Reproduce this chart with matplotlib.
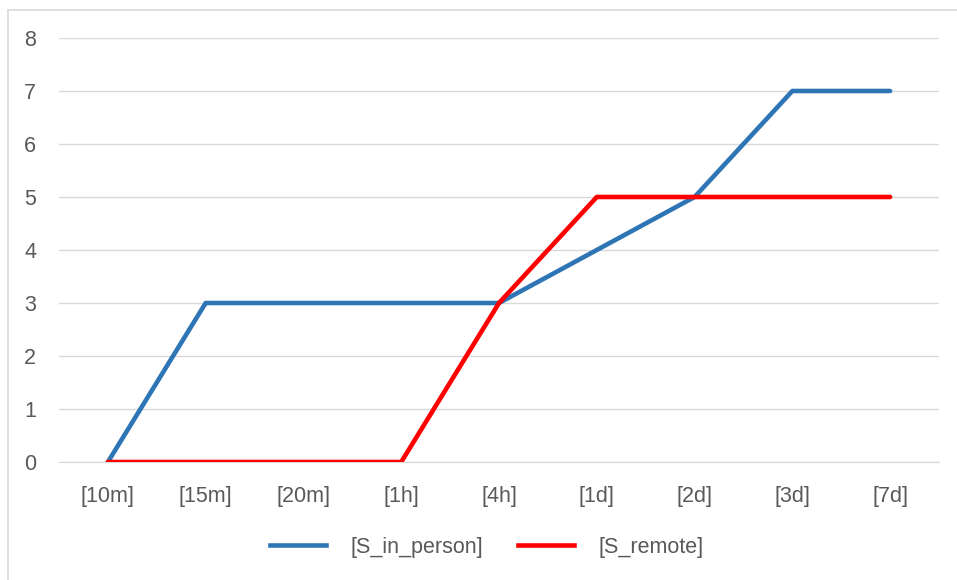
import matplotlib.pyplot as plt
from matplotlib.lines import Line2D

# intervals and scores
labels = ['[10m]', '[15m]', '[20m]', '[1h]', '[4h]', '[1d]', '[2d]', '[3d]', '[7d]']
s_in_person = [0, 3, 3, 3, 3, 4, 5, 7, 7]
s_remote = [0, 0, 0, 0, 3, 5, 5, 5, 5]

plt.rcParams['font.family'] = ['Liberation Sans', 'DejaVu Sans']
txt = '#595959'
fs = 15.5

fig = plt.figure(figsize=(9.57, 5.80), dpi=100)
W, H = 957, 580
# plot area in pixels: left 59, right 939, top 38 (y=8), bottom 462 (y=0)
ax = fig.add_axes([59 / W, 1 - 462 / H, 880 / W, 424 / H])

x = list(range(len(labels)))
ax.plot(x, s_in_person, color='#2e75b6', lw=3.3, solid_capstyle='round', zorder=3)
ax.plot(x, s_remote, color='#ff0000', lw=3.3, solid_capstyle='round', zorder=4)

ax.set_xlim(-0.5, len(labels) - 0.5)
ax.set_ylim(0, 8)
ax.set_yticks(range(0, 9))
ax.set_xticks(x)
ax.set_xticklabels(labels)
ax.grid(axis='y', color='#d9d9d9', lw=1)
ax.set_axisbelow(True)
for s in ['top', 'right', 'left']:
    ax.spines[s].set_visible(False)
ax.spines['bottom'].set_color('#d9d9d9')
ax.tick_params(axis='both', length=0, labelsize=fs, colors=txt)
ax.tick_params(axis='x', pad=17)
ax.tick_params(axis='y', pad=16.5)

handles = [Line2D([], [], color='#2e75b6', lw=3.3),
           Line2D([], [], color='#ff0000', lw=3.3)]
fig.legend(handles, ['[S_in_person]', '[S_remote]'], loc='center',
           bbox_to_anchor=(487 / W, 1 - 547 / H), ncol=2, frameon=False,
           fontsize=fs, labelcolor=txt, handlelength=2.6, columnspacing=1.6,
           handletextpad=1.15)

# chart border (top and left edges visible in the reference)
fig.add_artist(Line2D([8 / W, 1], [1 - 10 / H, 1 - 10 / H], color='#d9d9d9', lw=1.2))
fig.add_artist(Line2D([8 / W, 8 / W], [0, 1 - 10 / H], color='#d9d9d9', lw=1.2))

fig.savefig('out.png', dpi=100)
